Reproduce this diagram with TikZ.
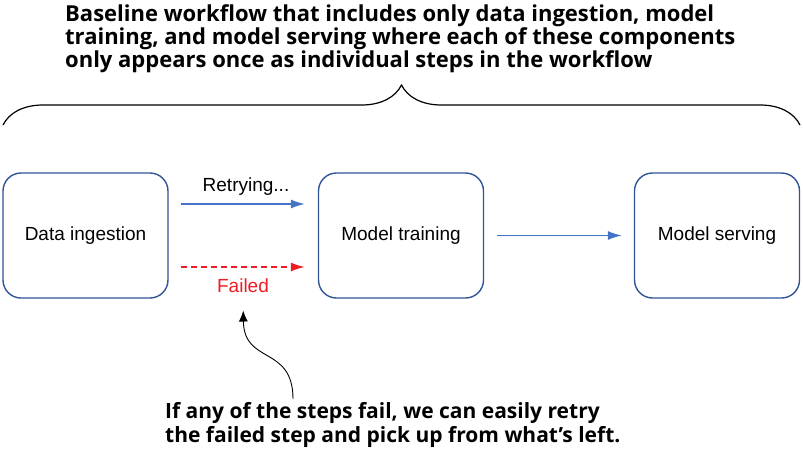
\documentclass[tikz,border=0pt]{standalone}
\usepackage{fontspec}
\setmainfont{Liberation Sans}
\newfontfamily\notefont{Open Sans}
\usepackage{xcolor}
\usepackage{tikz}
\usetikzlibrary{arrows.meta}
\usetikzlibrary{positioning}
\usetikzlibrary{decorations.pathreplacing}
\definecolor{boxblue}{HTML}{2F5597}
\definecolor{arrowblue}{HTML}{4472C4}
\definecolor{failred}{HTML}{EE1C25}
\tikzset{
stepbox/.style={rectangle, draw=boxblue, line width=1.4pt, rounded corners=18pt, minimum width=165pt, minimum height=125pt, font=\fontsize{19}{22}\selectfont},
notetext/.style={align=left, inner sep=0pt, font=\notefont\bfseries\fontsize{21}{24}\selectfont},
flow/.style={-{Latex[length=14pt, width=9pt]}, line width=1.3pt},
}

\begin{document}
\begin{tikzpicture}[x=1pt, y=-1pt]
\useasboundingbox (0, 0) rectangle (803, 456);
\node [notetext, anchor=north west, font=\notefont\bfseries\fontsize{22}{23}\selectfont] (top) at (65, 4) {Baseline workflow that includes only data ingestion, model\\training, and model serving where each of these components\\only appears once as individual steps in the workflow};
\coordinate (bl) at (3, 125);
\coordinate (br) at (800, 125);
\draw [decorate, decoration={brace, amplitude=40pt}, line width=1.2pt] (bl) to (br);
\node [stepbox] (D) at (85.5, 235.5) {Data ingestion};
\node [stepbox] (T) at (401, 235.5) {Model training};
\node [stepbox] (S) at (717, 235.5) {Model serving};
\draw [flow, draw=arrowblue, shorten <=12pt, shorten >=13pt] ([yshift=31.5pt]D.east) to ([yshift=31.5pt]T.west);
\draw [flow, draw=failred, dash pattern=on 6pt off 4pt, shorten <=12pt, shorten >=13pt] ([yshift=-31.5pt]D.east) to ([yshift=-31.5pt]T.west);
\draw [flow, draw=arrowblue, shorten <=13pt, shorten >=12pt] (T) to (S);
\node [font=\fontsize{19}{22}\selectfont] (retry) at (246, 187) {Retrying...};
\node [font=\fontsize{19}{22}\selectfont, text=failred] (fail) at (243, 286) {Failed};
\node [notetext, anchor=north west] (note) at (165, 402) {If any of the steps fail, we can easily retry\\the failed step and pick up from what’s left.};
\coordinate (tail) at (293, 399);
\draw [-{Latex[length=11pt, width=9pt]}, line width=0.9pt, shorten >=14pt] (tail) .. controls (293, 345) and (244, 365) .. (fail.south);
\end{tikzpicture}
\end{document}
